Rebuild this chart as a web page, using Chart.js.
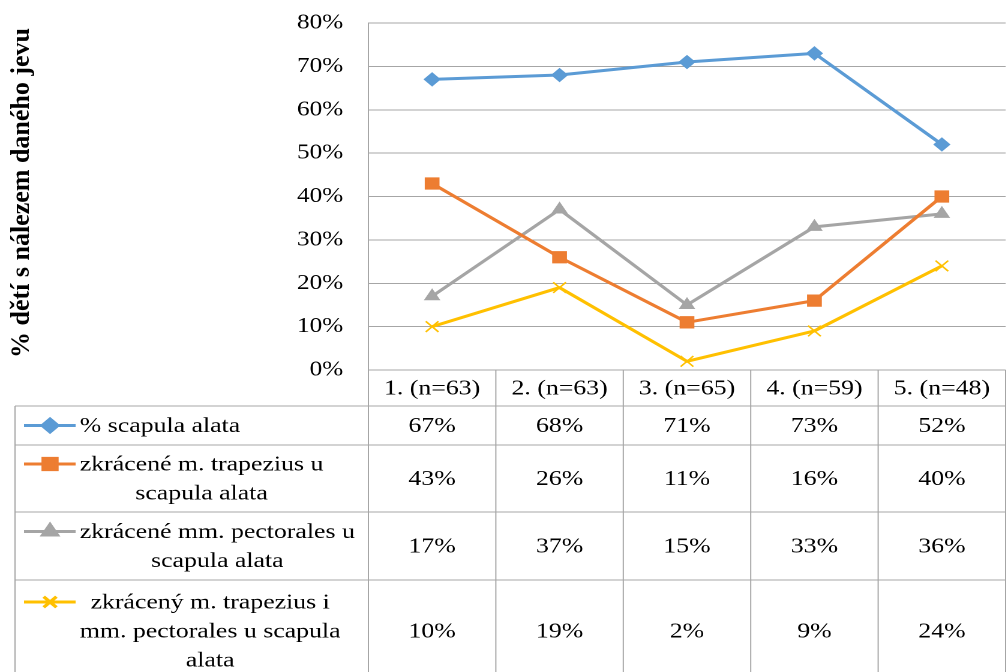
<!DOCTYPE html>
<html lang="cs">
<head>
<meta charset="utf-8">
<title>Scapula alata</title>
<script src="https://cdn.jsdelivr.net/npm/chart.js@4.4.1/dist/chart.umd.min.js"></script>
<style>
  html, body { margin: 0; padding: 0; overflow: hidden; background: #fff; }
  /* the whole graph is drawn narrow and widened afterwards, like the original Excel export */
  #wrap { width: 847px; height: 672px; transform: scaleX(1.2); transform-origin: 0 0; }
</style>
</head>
<body>
<div id="wrap"><canvas id="graf" width="847" height="672"></canvas></div>
<script>
const ROZTAZENI = 1.2;

const kategorie = ['1. (n=63)', '2. (n=63)', '3. (n=65)', '4. (n=59)', '5. (n=48)'];
const scapulaAlata = [0.67, 0.68, 0.71, 0.73, 0.52];
const trapezius = [0.43, 0.26, 0.11, 0.16, 0.40];
const pectorales = [0.17, 0.37, 0.15, 0.33, 0.36];
const trapeziusPectorales = [0.10, 0.19, 0.02, 0.09, 0.24];

const nazvyRad = [
  ['% scapula alata'],
  ['zkrácené m. trapezius u', 'scapula alata'],
  ['zkrácené mm. pectorales u', 'scapula alata'],
  ['zkrácený m. trapezius i', 'mm. pectorales u scapula', 'alata']
];
const nazevOsy = '% dětí s nálezem daného jevu';
const osaMax = 0.8;
const osaKrok = 0.1;

const SERIF = '"Liberation Serif", "Times New Roman", serif';
const MRIZKA = '#a6a6a6';
const VYSKA_RADKU = 29;
const vyskyRadku = [39, 67, 68, 102];

function procenta(v) {
  return Math.round(v * 100) + '%';
}

function usecka(ctx, x1, y1, x2, y2) {
  ctx.beginPath();
  ctx.moveTo(x1, y1);
  ctx.lineTo(x2, y2);
  ctx.stroke();
}

// rotated axis title, kept at its natural width
const titulekOsy = {
  id: 'titulekOsy',
  afterDraw(chart) {
    const ctx = chart.ctx;
    ctx.save();
    ctx.translate(18.5, 193);
    ctx.scale(1 / ROZTAZENI, 1);
    ctx.rotate(-Math.PI / 2);
    ctx.font = 'bold 26px ' + SERIF;
    ctx.fillStyle = '#000';
    ctx.textAlign = 'center';
    ctx.textBaseline = 'middle';
    ctx.fillText(nazevOsy, 0, 0);
    ctx.restore();
  }
};

// data table under the plot with the legend in its first column
const tabulka = {
  id: 'tabulka',
  afterDraw(chart) {
    const { ctx, chartArea } = chart;
    const x = chart.scales.x;
    const n = kategorie.length;
    const krok = x.getPixelForValue(1) - x.getPixelForValue(0);
    const hrany = kategorie.map((_, i) => x.getPixelForValue(i) - krok / 2);
    hrany.push(x.getPixelForValue(n - 1) + krok / 2);

    const vrch = chartArea.bottom;
    const hlavicka = vrch + 36;
    const radky = [hlavicka];
    vyskyRadku.forEach(h => radky.push(radky[radky.length - 1] + h));
    const spodek = radky[radky.length - 1];
    const levy = 12.5;

    ctx.save();
    ctx.strokeStyle = MRIZKA;
    ctx.lineWidth = 1;
    hrany.forEach(px => usecka(ctx, px, vrch, px, spodek));
    usecka(ctx, levy, hlavicka, levy, spodek);
    radky.forEach(py => usecka(ctx, levy, py, hrany[n], py));

    ctx.font = '21.5px ' + SERIF;
    ctx.fillStyle = '#000';
    ctx.textAlign = 'center';
    ctx.textBaseline = 'middle';
    kategorie.forEach((k, i) => ctx.fillText(k, x.getPixelForValue(i), (vrch + hlavicka) / 2 + 1));

    chart.data.datasets.forEach((ds, r) => {
      const stred = (radky[r] + radky[r + 1]) / 2;
      ds.data.forEach((v, i) => ctx.fillText(procenta(v), x.getPixelForValue(i), stred + 1));

      const text = nazvyRad[r];
      const prvni = stred - (text.length - 1) * VYSKA_RADKU / 2;

      ctx.strokeStyle = ds.borderColor;
      ctx.lineWidth = 3;
      usecka(ctx, 20, prvni, 63, prvni);
      const bod = {
        pointStyle: ds.pointStyle,
        radius: ds.pointRadius,
        rotation: 0,
        borderWidth: ds.pointStyle === 'crossRot' ? 1.5 : 1
      };
      ctx.fillStyle = ds.borderColor;
      if (Chart.helpers && Chart.helpers.drawPoint) {
        Chart.helpers.drawPoint(ctx, bod, 41.7, prvni);
      }

      ctx.fillStyle = '#000';
      const sirka = Math.max(...text.map(t => ctx.measureText(t).width));
      text.forEach((t, j) => ctx.fillText(t, 66.5 + sirka / 2, prvni + j * VYSKA_RADKU + 1));
    });
    ctx.restore();
  }
};

function rada(label, data, barva, styl, polomer) {
  return {
    label: label,
    data: data,
    borderColor: barva,
    backgroundColor: barva,
    pointBackgroundColor: barva,
    pointBorderColor: barva,
    borderWidth: 3,
    borderJoinStyle: 'round',
    pointStyle: styl,
    pointRadius: polomer,
    pointBorderWidth: styl === 'crossRot' ? 1.5 : 1,
    tension: 0
  };
}

new Chart(document.getElementById('graf').getContext('2d'), {
  type: 'line',
  data: {
    labels: kategorie,
    datasets: [
      rada(nazvyRad[0].join(' '), scapulaAlata, '#5b9bd5', 'rectRot', 6.5),
      rada(nazvyRad[1].join(' '), trapezius, '#ed7d31', 'rect', 8),
      rada(nazvyRad[2].join(' '), pectorales, '#a5a5a5', 'triangle', 7),
      rada(nazvyRad[3].join(' '), trapeziusPectorales, '#ffc000', 'crossRot', 7.5)
    ]
  },
  options: {
    responsive: false,
    devicePixelRatio: 2,
    animation: false,
    layout: { padding: { top: 23, right: 0, bottom: 302, left: 0 } },
    plugins: {
      legend: { display: false },
      tooltip: { enabled: false }
    },
    scales: {
      x: { display: false, offset: true },
      y: {
        min: 0,
        max: osaMax,
        afterFit(s) {
          s.width = 307;
          s.paddingTop = 0;
          s.paddingBottom = 0;
        },
        ticks: {
          stepSize: osaKrok,
          padding: 21,
          color: '#000',
          font: { family: SERIF, size: 21 },
          callback: v => procenta(v)
        },
        grid: { color: MRIZKA, lineWidth: 1, drawTicks: false },
        border: { color: MRIZKA, width: 1 }
      }
    }
  },
  plugins: [titulekOsy, tabulka]
});
</script>
</body>
</html>
